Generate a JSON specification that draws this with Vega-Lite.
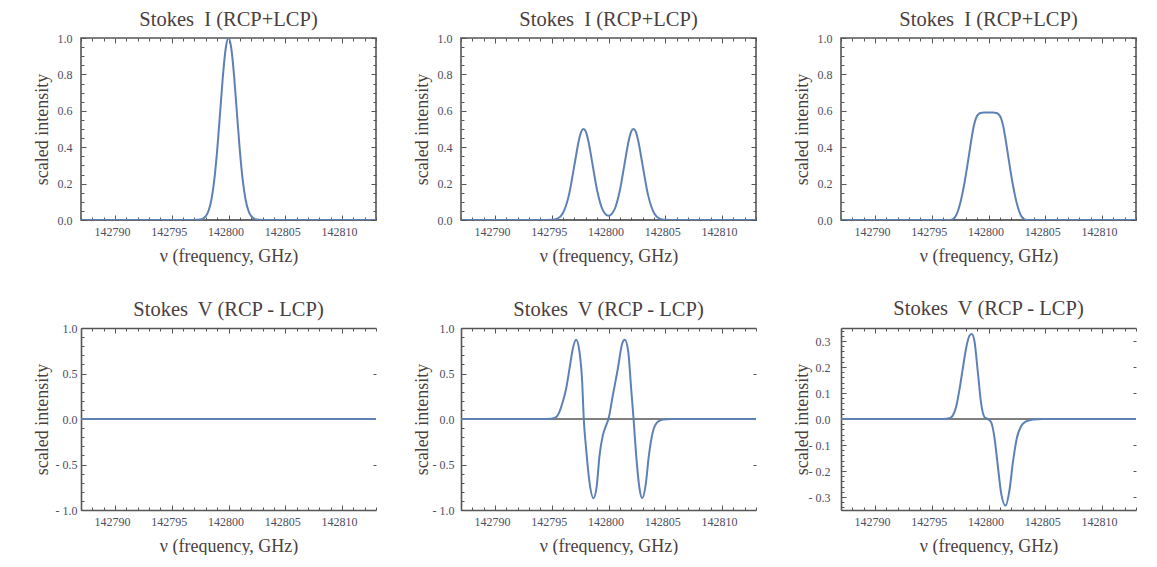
{
  "$schema": "https://vega.github.io/schema/vega-lite/v6.json",
  "background": "white",
  "padding": {"left": 32, "top": 8, "right": 0, "bottom": 0},
  "config": {
    "view": {"stroke": "#555555", "strokeWidth": 1.6},
    "axis": {"grid": false, "domain": false, "domainColor": "#555555", "domainWidth": 1.6,
      "labelFont": "Liberation Sans Narrow", "labelFontSize": 12, "labelColor": "#4d4d60",
      "tickColor": "#555555", "tickWidth": 1,
      "titleFont": "Liberation Serif", "titleFontSize": 18, "titleFontWeight": "normal", "titleColor": "#4a4040",
      "labelOverlap": false, "labelFlush": false, "labelBound": false},
    "title": {"font": "Liberation Serif", "fontSize": 20.5, "fontWeight": "normal", "color": "#4a4040", "offset": 2, "baseline": "alphabetic"}
  },
  "datasets": {
    "p1": [
      {"f": 142787, "v": 0}, {"f": 142796, "v": 0}, {"f": 142797, "v": 0.0002}, {"f": 142797.5, "v": 0.0024},
      {"f": 142798, "v": 0.021}, {"f": 142798.25, "v": 0.052}, {"f": 142798.5, "v": 0.114}, {"f": 142798.75, "v": 0.222},
      {"f": 142799, "v": 0.381}, {"f": 142799.25, "v": 0.581}, {"f": 142799.5, "v": 0.786}, {"f": 142799.75, "v": 0.941},
      {"f": 142800, "v": 1.0}, {"f": 142800.25, "v": 0.941}, {"f": 142800.5, "v": 0.786}, {"f": 142800.75, "v": 0.581},
      {"f": 142801, "v": 0.381}, {"f": 142801.25, "v": 0.222}, {"f": 142801.5, "v": 0.114}, {"f": 142801.75, "v": 0.052},
      {"f": 142802, "v": 0.021}, {"f": 142802.5, "v": 0.0024}, {"f": 142803, "v": 0.0002}, {"f": 142804, "v": 0}, {"f": 142813, "v": 0}
    ],
    "p2": [
      {"f": 142787, "v": 0}, {"f": 142794, "v": 0}, {"f": 142795, "v": 0.001}, {"f": 142795.5, "v": 0.008},
      {"f": 142796, "v": 0.04}, {"f": 142796.5, "v": 0.134}, {"f": 142797, "v": 0.303}, {"f": 142797.4, "v": 0.441},
      {"f": 142797.6, "v": 0.485}, {"f": 142797.8, "v": 0.5}, {"f": 142798, "v": 0.485}, {"f": 142798.2, "v": 0.441},
      {"f": 142798.6, "v": 0.303}, {"f": 142799, "v": 0.162}, {"f": 142799.5, "v": 0.054}, {"f": 142800, "v": 0.023},
      {"f": 142800.5, "v": 0.054}, {"f": 142801, "v": 0.162}, {"f": 142801.4, "v": 0.303}, {"f": 142801.8, "v": 0.441},
      {"f": 142802, "v": 0.485}, {"f": 142802.2, "v": 0.5}, {"f": 142802.4, "v": 0.485}, {"f": 142802.6, "v": 0.441},
      {"f": 142803, "v": 0.303}, {"f": 142803.5, "v": 0.134}, {"f": 142804, "v": 0.04}, {"f": 142804.5, "v": 0.008},
      {"f": 142805, "v": 0.001}, {"f": 142806, "v": 0}, {"f": 142813, "v": 0}
    ],
    "p3": [
      {"f": 142787, "v": 0}, {"f": 142796, "v": 0}, {"f": 142796.6, "v": 0.0005}, {"f": 142796.9, "v": 0.006},
      {"f": 142797.1, "v": 0.02}, {"f": 142797.3, "v": 0.048}, {"f": 142797.5, "v": 0.09}, {"f": 142797.7, "v": 0.145},
      {"f": 142797.9, "v": 0.21}, {"f": 142798.1, "v": 0.285}, {"f": 142798.3, "v": 0.365}, {"f": 142798.5, "v": 0.445},
      {"f": 142798.7, "v": 0.515}, {"f": 142798.9, "v": 0.56}, {"f": 142799.1, "v": 0.58}, {"f": 142799.3, "v": 0.588},
      {"f": 142799.6, "v": 0.59}, {"f": 142800, "v": 0.59}, {"f": 142800.4, "v": 0.59}, {"f": 142800.7, "v": 0.588},
      {"f": 142800.9, "v": 0.58}, {"f": 142801.1, "v": 0.56}, {"f": 142801.3, "v": 0.515}, {"f": 142801.5, "v": 0.445},
      {"f": 142801.7, "v": 0.365}, {"f": 142801.9, "v": 0.285}, {"f": 142802.1, "v": 0.21}, {"f": 142802.3, "v": 0.145},
      {"f": 142802.5, "v": 0.09}, {"f": 142802.7, "v": 0.048}, {"f": 142802.9, "v": 0.02}, {"f": 142803.1, "v": 0.006},
      {"f": 142803.4, "v": 0.0005}, {"f": 142804, "v": 0}, {"f": 142813, "v": 0}
    ],
    "p4": [{"f": 142787, "v": 0}, {"f": 142800, "v": 0}, {"f": 142813, "v": 0}],
    "p5": [
      {"f": 142787, "v": 0}, {"f": 142794, "v": 0}, {"f": 142794.94, "v": 0.003}, {"f": 142795.38, "v": 0.02},
      {"f": 142795.68, "v": 0.08}, {"f": 142795.97, "v": 0.19}, {"f": 142796.26, "v": 0.33}, {"f": 142796.56, "v": 0.55},
      {"f": 142796.85, "v": 0.77}, {"f": 142797.15, "v": 0.87}, {"f": 142797.44, "v": 0.74}, {"f": 142797.68, "v": 0.41},
      {"f": 142797.82, "v": 0}, {"f": 142798.03, "v": -0.33}, {"f": 142798.32, "v": -0.69}, {"f": 142798.68, "v": -0.87},
      {"f": 142798.97, "v": -0.73}, {"f": 142799.21, "v": -0.4}, {"f": 142799.5, "v": -0.18}, {"f": 142799.79, "v": -0.07},
      {"f": 142800, "v": 0}, {"f": 142800.38, "v": 0.26}, {"f": 142800.82, "v": 0.55}, {"f": 142801.21, "v": 0.83},
      {"f": 142801.44, "v": 0.87}, {"f": 142801.74, "v": 0.74}, {"f": 142802, "v": 0.33}, {"f": 142802.21, "v": 0},
      {"f": 142802.44, "v": -0.4}, {"f": 142802.74, "v": -0.77}, {"f": 142802.97, "v": -0.87}, {"f": 142803.27, "v": -0.73},
      {"f": 142803.56, "v": -0.4}, {"f": 142803.91, "v": -0.14}, {"f": 142804.35, "v": -0.03}, {"f": 142804.8, "v": -0.007},
      {"f": 142805.5, "v": 0}, {"f": 142813, "v": 0}
    ],
    "p6": [
      {"f": 142787, "v": 0}, {"f": 142796, "v": 0}, {"f": 142796.56, "v": 0.003}, {"f": 142796.85, "v": 0.013},
      {"f": 142797.15, "v": 0.047}, {"f": 142797.44, "v": 0.113}, {"f": 142797.73, "v": 0.193}, {"f": 142798.03, "v": 0.273},
      {"f": 142798.32, "v": 0.32}, {"f": 142798.53, "v": 0.327}, {"f": 142798.76, "v": 0.3}, {"f": 142799.06, "v": 0.18},
      {"f": 142799.35, "v": 0.06}, {"f": 142799.65, "v": 0.007}, {"f": 142799.94, "v": 0}, {"f": 142800.24, "v": -0.013},
      {"f": 142800.53, "v": -0.073}, {"f": 142800.82, "v": -0.18}, {"f": 142801.12, "v": -0.287}, {"f": 142801.5, "v": -0.333},
      {"f": 142801.85, "v": -0.273}, {"f": 142802.15, "v": -0.167}, {"f": 142802.5, "v": -0.073}, {"f": 142802.88, "v": -0.027},
      {"f": 142803.32, "v": -0.009}, {"f": 142803.91, "v": -0.002}, {"f": 142804.8, "v": 0}, {"f": 142813, "v": 0}
    ]
  },
  "columns": 3,
  "spacing": {"column": 34, "row": 33},
  "concat": [
    {
      "width": 295, "height": 182,
      "title": {"text": "Stokes\u00a0 I (RCP+LCP)"},
      "layer": [
        {"data": {"values": [{}]}, "mark": {"type": "rule", "color": "#555555", "strokeWidth": 1.2},
         "encoding": {
           "x": {"datum": 142787, "type": "quantitative", "scale": {"domain": [142787, 142813], "nice": false, "zero": false},
             "axis": {"orient": "top", "values": [142787,142788,142789,142790,142791,142792,142793,142794,142795,142796,142797,142798,142799,142800,142801,142802,142803,142804,142805,142806,142807,142808,142809,142810,142811,142812,142813], "tickSize": {"condition": {"test": "datum.value % 5 === 0", "value": -5}, "value": -3}, "labels": false, "title": null}},
           "x2": {"datum": 142813},
           "y": {"datum": 0, "type": "quantitative", "scale": {"domain": [0, 1], "nice": false, "zero": false},
             "axis": {"orient": "right", "values": [0,0.05,0.1,0.15,0.2,0.25,0.3,0.35,0.4,0.45,0.5,0.55,0.6,0.65,0.7,0.75,0.8,0.85,0.9,0.95,1], "tickSize": {"condition": {"test": "abs(datum.value*5-round(datum.value*5))<0.001", "value": -5}, "value": -3}, "labels": false, "title": null}}
         }},
        {"data": {"name": "p1"}, "mark": {"type": "line", "color": "#5E81B5", "strokeWidth": 2, "interpolate": "monotone", "clip": true},
         "encoding": {
           "x": {"field": "f", "type": "quantitative", "scale": {"domain": [142787, 142813], "nice": false, "zero": false},
             "axis": {"orient": "bottom", "values": [142787,142788,142789,142790,142791,142792,142793,142794,142795,142796,142797,142798,142799,142800,142801,142802,142803,142804,142805,142806,142807,142808,142809,142810,142811,142812,142813], "format": "d", "tickSize": {"condition": {"test": "datum.value % 5 === 0", "value": -5}, "value": -3}, "labelExpr": "datum.value % 5 === 0 ? datum.label : ''", "labelPadding": 11, "labelOffset": -3, "title": "ν (frequency, GHz)", "titleY": 41, "titleBaseline": "alphabetic"}},
           "y": {"field": "v", "type": "quantitative", "scale": {"domain": [0, 1], "nice": false, "zero": false},
             "axis": {"orient": "left", "values": [0,0.05,0.1,0.15,0.2,0.25,0.3,0.35,0.4,0.45,0.5,0.55,0.6,0.65,0.7,0.75,0.8,0.85,0.9,0.95,1], "tickSize": {"condition": {"test": "abs(datum.value*5-round(datum.value*5))<0.001", "value": -5}, "value": -3}, "labelExpr": "abs(datum.value*5-round(datum.value*5))<0.001 ? format(datum.value, '.1f') : ''", "labelPadding": 14, "title": "scaled intensity", "titleX": -34, "titleBaseline": "alphabetic"}}
         }}
      ],
      "resolve": {"axis": {"x": "independent", "y": "independent"}}
    },
    {
      "width": 295, "height": 182,
      "title": {"text": "Stokes\u00a0 I (RCP+LCP)"},
      "layer": [
        {"data": {"values": [{}]}, "mark": {"type": "rule", "color": "#555555", "strokeWidth": 1.2},
         "encoding": {
           "x": {"datum": 142787, "type": "quantitative", "scale": {"domain": [142787, 142813], "nice": false, "zero": false},
             "axis": {"orient": "top", "values": [142787,142788,142789,142790,142791,142792,142793,142794,142795,142796,142797,142798,142799,142800,142801,142802,142803,142804,142805,142806,142807,142808,142809,142810,142811,142812,142813], "tickSize": {"condition": {"test": "datum.value % 5 === 0", "value": -5}, "value": -3}, "labels": false, "title": null}},
           "x2": {"datum": 142813},
           "y": {"datum": 0, "type": "quantitative", "scale": {"domain": [0, 1], "nice": false, "zero": false},
             "axis": {"orient": "right", "values": [0,0.05,0.1,0.15,0.2,0.25,0.3,0.35,0.4,0.45,0.5,0.55,0.6,0.65,0.7,0.75,0.8,0.85,0.9,0.95,1], "tickSize": {"condition": {"test": "abs(datum.value*5-round(datum.value*5))<0.001", "value": -5}, "value": -3}, "labels": false, "title": null}}
         }},
        {"data": {"name": "p2"}, "mark": {"type": "line", "color": "#5E81B5", "strokeWidth": 2, "interpolate": "monotone", "clip": true},
         "encoding": {
           "x": {"field": "f", "type": "quantitative", "scale": {"domain": [142787, 142813], "nice": false, "zero": false},
             "axis": {"orient": "bottom", "values": [142787,142788,142789,142790,142791,142792,142793,142794,142795,142796,142797,142798,142799,142800,142801,142802,142803,142804,142805,142806,142807,142808,142809,142810,142811,142812,142813], "format": "d", "tickSize": {"condition": {"test": "datum.value % 5 === 0", "value": -5}, "value": -3}, "labelExpr": "datum.value % 5 === 0 ? datum.label : ''", "labelPadding": 11, "labelOffset": -3, "title": "ν (frequency, GHz)", "titleY": 41, "titleBaseline": "alphabetic"}},
           "y": {"field": "v", "type": "quantitative", "scale": {"domain": [0, 1], "nice": false, "zero": false},
             "axis": {"orient": "left", "values": [0,0.05,0.1,0.15,0.2,0.25,0.3,0.35,0.4,0.45,0.5,0.55,0.6,0.65,0.7,0.75,0.8,0.85,0.9,0.95,1], "tickSize": {"condition": {"test": "abs(datum.value*5-round(datum.value*5))<0.001", "value": -5}, "value": -3}, "labelExpr": "abs(datum.value*5-round(datum.value*5))<0.001 ? format(datum.value, '.1f') : ''", "labelPadding": 14, "title": "scaled intensity", "titleX": -34, "titleBaseline": "alphabetic"}}
         }}
      ],
      "resolve": {"axis": {"x": "independent", "y": "independent"}}
    },
    {
      "width": 295, "height": 182,
      "title": {"text": "Stokes\u00a0 I (RCP+LCP)"},
      "layer": [
        {"data": {"values": [{}]}, "mark": {"type": "rule", "color": "#555555", "strokeWidth": 1.2},
         "encoding": {
           "x": {"datum": 142787, "type": "quantitative", "scale": {"domain": [142787, 142813], "nice": false, "zero": false},
             "axis": {"orient": "top", "values": [142787,142788,142789,142790,142791,142792,142793,142794,142795,142796,142797,142798,142799,142800,142801,142802,142803,142804,142805,142806,142807,142808,142809,142810,142811,142812,142813], "tickSize": {"condition": {"test": "datum.value % 5 === 0", "value": -5}, "value": -3}, "labels": false, "title": null}},
           "x2": {"datum": 142813},
           "y": {"datum": 0, "type": "quantitative", "scale": {"domain": [0, 1], "nice": false, "zero": false},
             "axis": {"orient": "right", "values": [0,0.05,0.1,0.15,0.2,0.25,0.3,0.35,0.4,0.45,0.5,0.55,0.6,0.65,0.7,0.75,0.8,0.85,0.9,0.95,1], "tickSize": {"condition": {"test": "abs(datum.value*5-round(datum.value*5))<0.001", "value": -5}, "value": -3}, "labels": false, "title": null}}
         }},
        {"data": {"name": "p3"}, "mark": {"type": "line", "color": "#5E81B5", "strokeWidth": 2, "interpolate": "monotone", "clip": true},
         "encoding": {
           "x": {"field": "f", "type": "quantitative", "scale": {"domain": [142787, 142813], "nice": false, "zero": false},
             "axis": {"orient": "bottom", "values": [142787,142788,142789,142790,142791,142792,142793,142794,142795,142796,142797,142798,142799,142800,142801,142802,142803,142804,142805,142806,142807,142808,142809,142810,142811,142812,142813], "format": "d", "tickSize": {"condition": {"test": "datum.value % 5 === 0", "value": -5}, "value": -3}, "labelExpr": "datum.value % 5 === 0 ? datum.label : ''", "labelPadding": 11, "labelOffset": -3, "title": "ν (frequency, GHz)", "titleY": 41, "titleBaseline": "alphabetic"}},
           "y": {"field": "v", "type": "quantitative", "scale": {"domain": [0, 1], "nice": false, "zero": false},
             "axis": {"orient": "left", "values": [0,0.05,0.1,0.15,0.2,0.25,0.3,0.35,0.4,0.45,0.5,0.55,0.6,0.65,0.7,0.75,0.8,0.85,0.9,0.95,1], "tickSize": {"condition": {"test": "abs(datum.value*5-round(datum.value*5))<0.001", "value": -5}, "value": -3}, "labelExpr": "abs(datum.value*5-round(datum.value*5))<0.001 ? format(datum.value, '.1f') : ''", "labelPadding": 14, "title": "scaled intensity", "titleX": -34, "titleBaseline": "alphabetic"}}
         }}
      ],
      "resolve": {"axis": {"x": "independent", "y": "independent"}}
    },
    {
      "width": 295, "height": 182,
      "view": {"stroke": null},
      "title": {"text": "Stokes\u00a0 V (RCP - LCP)"},
      "layer": [
        {"data": {"values": [{}]}, "mark": {"type": "rule", "color": "#555555", "strokeWidth": 1.5},
         "encoding": {
           "x": {"datum": 142787, "type": "quantitative", "scale": {"domain": [142787, 142813], "nice": false, "zero": false},
             "axis": {"orient": "top", "domain": true, "values": [142787,142788,142789,142790,142791,142792,142793,142794,142795,142796,142797,142798,142799,142800,142801,142802,142803,142804,142805,142806,142807,142808,142809,142810,142811,142812,142813], "tickSize": {"condition": {"test": "datum.value % 5 === 0", "value": -5}, "value": -3}, "labels": false, "title": null}},
           "x2": {"datum": 142813},
           "y": {"datum": 0, "type": "quantitative", "scale": {"domain": [-1, 1], "nice": false, "zero": false},
             "axis": {"orient": "right", "values": [-0.5, 0.5], "tickSize": -3, "labels": false, "title": null}}
         }},
        {"data": {"name": "p4"}, "mark": {"type": "line", "color": "#5E81B5", "strokeWidth": 2, "interpolate": "monotone", "clip": true},
         "encoding": {
           "x": {"field": "f", "type": "quantitative", "scale": {"domain": [142787, 142813], "nice": false, "zero": false},
             "axis": {"orient": "bottom", "domain": true, "values": [142787,142788,142789,142790,142791,142792,142793,142794,142795,142796,142797,142798,142799,142800,142801,142802,142803,142804,142805,142806,142807,142808,142809,142810,142811,142812,142813], "format": "d", "tickSize": {"condition": {"test": "datum.value % 5 === 0", "value": -5}, "value": -3}, "labelExpr": "datum.value % 5 === 0 ? datum.label : ''", "labelPadding": 11, "labelOffset": -3, "title": "ν (frequency, GHz)", "titleY": 41, "titleBaseline": "alphabetic"}},
           "y": {"field": "v", "type": "quantitative", "scale": {"domain": [-1, 1], "nice": false, "zero": false},
             "axis": {"orient": "left", "domain": true, "values": [-1,-0.9,-0.8,-0.7,-0.6,-0.5,-0.4,-0.3,-0.2,-0.1,0,0.1,0.2,0.3,0.4,0.5,0.6,0.7,0.8,0.9,1], "tickSize": {"condition": {"test": "abs(datum.value*2-round(datum.value*2))<0.001", "value": -5}, "value": -3}, "labelExpr": "abs(datum.value*2-round(datum.value*2))<0.001 ? (datum.value < -0.01 ? '- ' + format(-datum.value, '.1f') : format(datum.value, '.1f')) : ''", "labelPadding": 9, "title": "scaled intensity", "titleX": -34, "titleBaseline": "alphabetic"}}
         }}
      ],
      "resolve": {"axis": {"x": "independent", "y": "independent"}}
    },
    {
      "width": 295, "height": 182,
      "view": {"stroke": null},
      "title": {"text": "Stokes\u00a0 V (RCP - LCP)"},
      "layer": [
        {"data": {"values": [{}]}, "mark": {"type": "rule", "color": "#555555", "strokeWidth": 1.5},
         "encoding": {
           "x": {"datum": 142787, "type": "quantitative", "scale": {"domain": [142787, 142813], "nice": false, "zero": false},
             "axis": {"orient": "top", "domain": true, "values": [142787,142788,142789,142790,142791,142792,142793,142794,142795,142796,142797,142798,142799,142800,142801,142802,142803,142804,142805,142806,142807,142808,142809,142810,142811,142812,142813], "tickSize": {"condition": {"test": "datum.value % 5 === 0", "value": -5}, "value": -3}, "labels": false, "title": null}},
           "x2": {"datum": 142813},
           "y": {"datum": 0, "type": "quantitative", "scale": {"domain": [-1, 1], "nice": false, "zero": false},
             "axis": {"orient": "right", "values": [-0.5, 0.5], "tickSize": -3, "labels": false, "title": null}}
         }},
        {"data": {"name": "p5"}, "mark": {"type": "line", "color": "#5E81B5", "strokeWidth": 2, "interpolate": "monotone", "clip": true},
         "encoding": {
           "x": {"field": "f", "type": "quantitative", "scale": {"domain": [142787, 142813], "nice": false, "zero": false},
             "axis": {"orient": "bottom", "domain": true, "values": [142787,142788,142789,142790,142791,142792,142793,142794,142795,142796,142797,142798,142799,142800,142801,142802,142803,142804,142805,142806,142807,142808,142809,142810,142811,142812,142813], "format": "d", "tickSize": {"condition": {"test": "datum.value % 5 === 0", "value": -5}, "value": -3}, "labelExpr": "datum.value % 5 === 0 ? datum.label : ''", "labelPadding": 11, "labelOffset": -3, "title": "ν (frequency, GHz)", "titleY": 41, "titleBaseline": "alphabetic"}},
           "y": {"field": "v", "type": "quantitative", "scale": {"domain": [-1, 1], "nice": false, "zero": false},
             "axis": {"orient": "left", "domain": true, "values": [-1,-0.9,-0.8,-0.7,-0.6,-0.5,-0.4,-0.3,-0.2,-0.1,0,0.1,0.2,0.3,0.4,0.5,0.6,0.7,0.8,0.9,1], "tickSize": {"condition": {"test": "abs(datum.value*2-round(datum.value*2))<0.001", "value": -5}, "value": -3}, "labelExpr": "abs(datum.value*2-round(datum.value*2))<0.001 ? (datum.value < -0.01 ? '- ' + format(-datum.value, '.1f') : format(datum.value, '.1f')) : ''", "labelPadding": 12, "title": "scaled intensity", "titleX": -34, "titleBaseline": "alphabetic"}}
         }}
      ],
      "resolve": {"axis": {"x": "independent", "y": "independent"}}
    },
    {
      "width": 295, "height": 182,
      "view": {"stroke": null},
      "title": {"text": "Stokes\u00a0 V (RCP - LCP)", "offset": 5},
      "layer": [
        {"data": {"values": [{}]}, "mark": {"type": "rule", "color": "#555555", "strokeWidth": 1.5},
         "encoding": {
           "x": {"datum": 142787, "type": "quantitative", "scale": {"domain": [142787, 142813], "nice": false, "zero": false},
             "axis": {"orient": "top", "domain": true, "values": [142787,142788,142789,142790,142791,142792,142793,142794,142795,142796,142797,142798,142799,142800,142801,142802,142803,142804,142805,142806,142807,142808,142809,142810,142811,142812,142813], "tickSize": {"condition": {"test": "datum.value % 5 === 0", "value": -5}, "value": -3}, "labels": false, "title": null}},
           "x2": {"datum": 142813},
           "y": {"datum": 0, "type": "quantitative", "scale": {"domain": [-0.35, 0.35], "nice": false, "zero": false},
             "axis": {"orient": "right", "values": [-0.3, -0.2, -0.1, 0.1, 0.2, 0.3], "tickSize": -3, "labels": false, "title": null}}
         }},
        {"data": {"name": "p6"}, "mark": {"type": "line", "color": "#5E81B5", "strokeWidth": 2, "interpolate": "monotone", "clip": true},
         "encoding": {
           "x": {"field": "f", "type": "quantitative", "scale": {"domain": [142787, 142813], "nice": false, "zero": false},
             "axis": {"orient": "bottom", "domain": true, "values": [142787,142788,142789,142790,142791,142792,142793,142794,142795,142796,142797,142798,142799,142800,142801,142802,142803,142804,142805,142806,142807,142808,142809,142810,142811,142812,142813], "format": "d", "tickSize": {"condition": {"test": "datum.value % 5 === 0", "value": -5}, "value": -3}, "labelExpr": "datum.value % 5 === 0 ? datum.label : ''", "labelPadding": 11, "labelOffset": -3, "title": "ν (frequency, GHz)", "titleY": 41, "titleBaseline": "alphabetic"}},
           "y": {"field": "v", "type": "quantitative", "scale": {"domain": [-0.35, 0.35], "nice": false, "zero": false},
             "axis": {"orient": "left", "domain": true, "values": [-0.34,-0.32,-0.3,-0.28,-0.26,-0.24,-0.22,-0.2,-0.18,-0.16,-0.14,-0.12,-0.1,-0.08,-0.06,-0.04,-0.02,0,0.02,0.04,0.06,0.08,0.1,0.12,0.14,0.16,0.18,0.2,0.22,0.24,0.26,0.28,0.3,0.32,0.34], "tickSize": {"condition": {"test": "abs(datum.value*10-round(datum.value*10))<0.001", "value": -5}, "value": -3}, "labelExpr": "abs(datum.value*10-round(datum.value*10))<0.001 ? (datum.value < -0.01 ? '- ' + format(-datum.value, '.1f') : format(datum.value, '.1f')) : ''", "labelPadding": 16, "title": "scaled intensity", "titleX": -34, "titleBaseline": "alphabetic"}}
         }}
      ],
      "resolve": {"axis": {"x": "independent", "y": "independent"}}
    }
  ]
}
